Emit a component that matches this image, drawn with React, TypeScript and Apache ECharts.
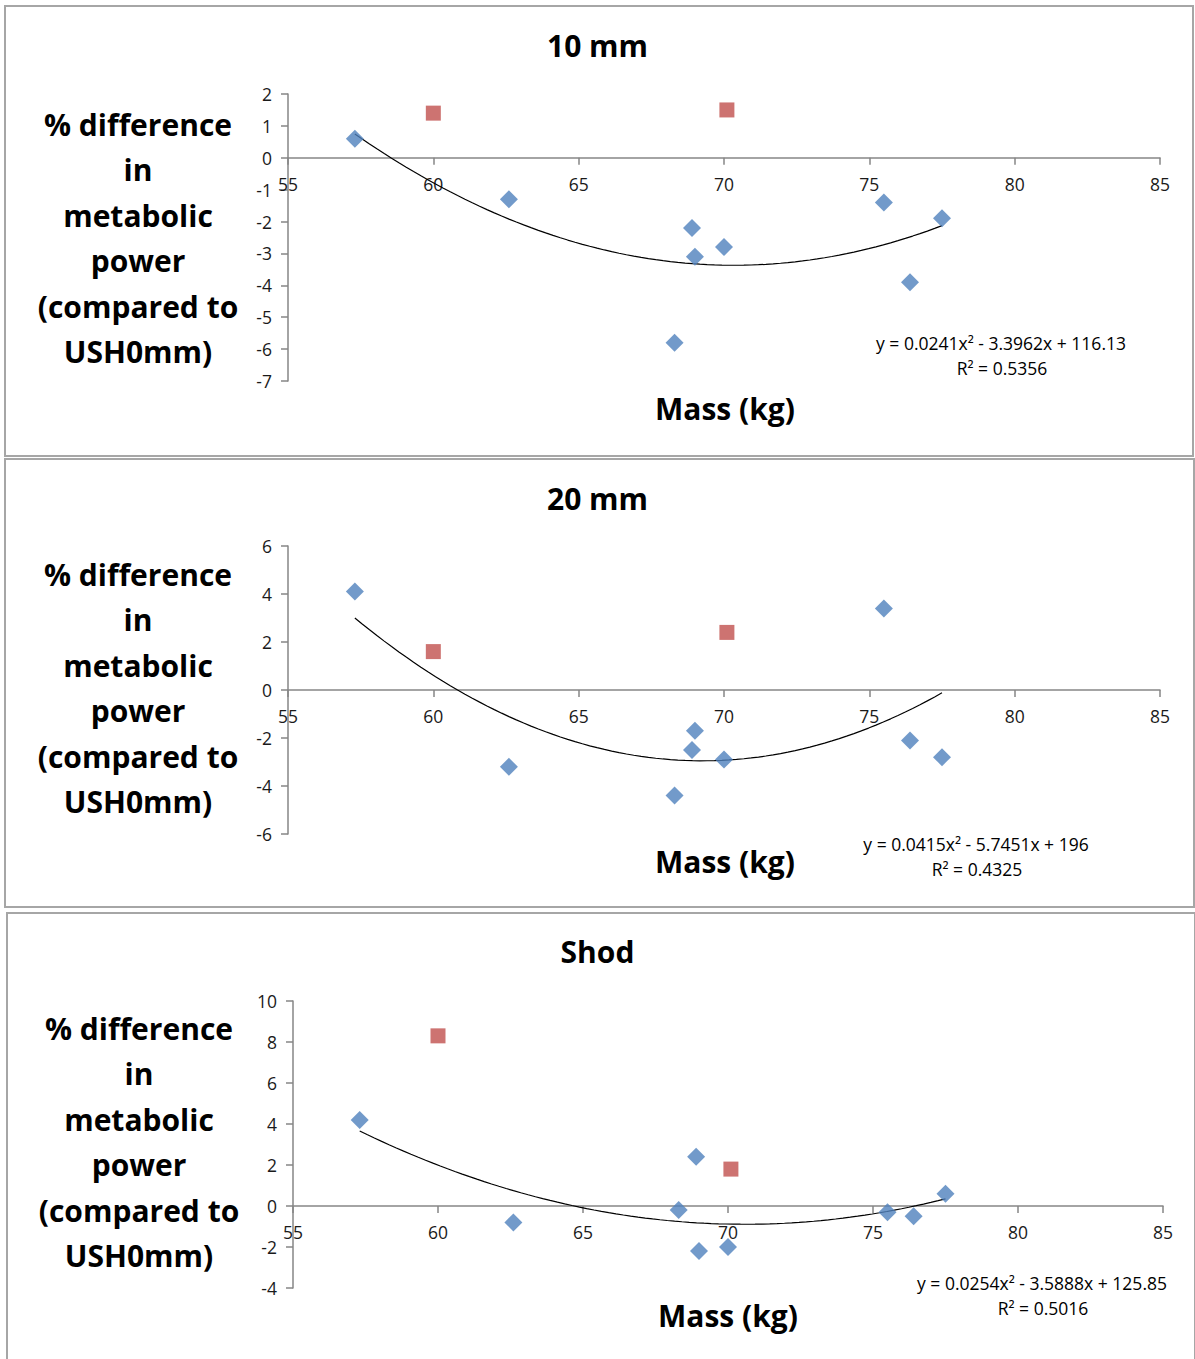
import React, { useEffect, useRef } from "react";
import * as echarts from "echarts";

// ---- data ----
const panelTitles = ["10 mm", "20 mm", "Shod"];
const massBlue = [57.3, 62.6, 68.3, 68.9, 69.0, 70.0, 75.5, 76.4, 77.5];
const diff10 = [0.6, -1.3, -5.8, -2.2, -3.1, -2.8, -1.4, -3.9, -1.9];
const diff20 = [4.1, -3.2, -4.4, -2.5, -1.7, -2.9, 3.4, -2.1, -2.8];
const diffShod = [4.2, -0.8, -0.2, 2.4, -2.2, -2.0, -0.3, -0.5, 0.6];
const massRed = [60.0, 70.1];
const red10 = [1.4, 1.5];
const red20 = [1.6, 2.4];
const redShod = [8.3, 1.8];
// quadratic trendline equations as printed on the chart (a, b, c)
const trend10 = [0.0241, -3.3962, 116.13];
const trend20 = [0.0415, -5.7451, 196];
const trendShod = [0.0254, -3.5888, 125.85];
const r2Values = ["0.5356", "0.4325", "0.5016"];
const xTicks = { min: 55, max: 85, interval: 5 };
const yRanges = [
  { min: -7, max: 2, interval: 1 },
  { min: -6, max: 6, interval: 2 },
  { min: -4, max: 10, interval: 2 },
];
const yAxisTitle = ["% difference", "in", "metabolic", "power", "(compared to", "USH0mm)"];
const xAxisTitle = "Mass (kg)";

const FONT = "'Open Sans', Lato, sans-serif";
const BLUE = "#4F81BD";
const RED = "#C0504D";
const AXIS = "#868686";

// least-squares quadratic fit of the plotted points (Excel polynomial trendline)
function quadFit(xs: number[], ys: number[]) {
  const n = xs.length;
  let s1 = 0, s2 = 0, s3 = 0, s4 = 0, t0 = 0, t1 = 0, t2 = 0;
  for (let i = 0; i < n; i++) {
    const x = xs[i], y = ys[i];
    s1 += x; s2 += x * x; s3 += x * x * x; s4 += x * x * x * x;
    t0 += y; t1 += x * y; t2 += x * x * y;
  }
  const M = [
    [s4, s3, s2, t2],
    [s3, s2, s1, t1],
    [s2, s1, n, t0],
  ];
  for (let c = 0; c < 3; c++) {
    let p = c;
    for (let r = c + 1; r < 3; r++) if (Math.abs(M[r][c]) > Math.abs(M[p][c])) p = r;
    [M[c], M[p]] = [M[p], M[c]];
    for (let r = 0; r < 3; r++) {
      if (r === c) continue;
      const f = M[r][c] / M[c][c];
      for (let k = c; k < 4; k++) M[r][k] -= f * M[c][k];
    }
  }
  return [M[0][3] / M[0][0], M[1][3] / M[1][1], M[2][3] / M[2][2]];
}

function trendPoints(xs: number[], ys: number[]) {
  const coef = quadFit(xs, ys);
  const lo = Math.min(...xs);
  const hi = Math.max(...xs);
  const pts: number[][] = [];
  const n = 80;
  for (let i = 0; i <= n; i++) {
    const x = lo + ((hi - lo) * i) / n;
    pts.push([x, coef[0] * x * x + coef[1] * x + coef[2]]);
  }
  return pts;
}

function eqText(coef: number[]) {
  const sign = (v: number) => (v < 0 ? " - " : " + ");
  return `y = ${coef[0]}x²${sign(coef[1])}${Math.abs(coef[1])}x${sign(coef[2])}${Math.abs(coef[2])}`;
}

export default function App() {
  const ref = useRef<HTMLDivElement>(null);
  useEffect(() => {
    if (!ref.current) return;
    const chart = echarts.init(ref.current, undefined, { renderer: "svg" });

    const grids = [
      { left: 288, top: 94, width: 872, height: 287 },
      { left: 288, top: 546, width: 872, height: 288 },
      { left: 293, top: 1001, width: 870, height: 287 },
    ];
    const blues = [diff10, diff20, diffShod];
    const reds = [red10, red20, redShod];
    const trends = [trend10, trend20, trendShod];
    const panels = [
      { x: 5, y: 6, w: 1188, h: 450 },
      { x: 5, y: 459, w: 1189, h: 448 },
      { x: 7, y: 913, w: 1188, h: 470 },
    ];
    const titleY = [46, 499, 952];
    const yNameCenter = [
      { x: 138, y: 238 },
      { x: 138, y: 688 },
      { x: 139, y: 1142 },
    ];
    const xNameCenter = [
      { x: 725, y: 408 },
      { x: 725, y: 861 },
      { x: 728, y: 1315 },
    ];
    const eqPos = [
      { x: 1001, y: 343 },
      { x: 976, y: 844 },
      { x: 1042, y: 1283 },
    ];

    const series: any[] = [];
    blues.forEach((vals, i) => {
      series.push({
        type: "line",
        xAxisIndex: i,
        yAxisIndex: i,
        showSymbol: false,
        symbol: "none",
        lineStyle: { color: "#000", width: 1.2 },
        data: trendPoints(massBlue, vals),
        z: 2,
      });
      series.push({
        type: "scatter",
        xAxisIndex: i,
        yAxisIndex: i,
        symbol: "diamond",
        symbolSize: 18,
        itemStyle: { color: BLUE },
        data: massBlue.map((m, k) => [m, vals[k]]),
        z: 3,
      });
      series.push({
        type: "scatter",
        xAxisIndex: i,
        yAxisIndex: i,
        symbol: "rect",
        symbolSize: 15,
        itemStyle: { color: RED },
        data: massRed.map((m, k) => [m, reds[i][k]]),
        z: 3,
      });
    });

    const graphic: any[] = [];
    panels.forEach((p) => {
      graphic.push({
        type: "rect",
        shape: { x: p.x, y: p.y, width: p.w, height: p.h },
        style: { fill: "none", stroke: "#a6a6a6", lineWidth: 2 },
        z: -1,
      });
    });
    yNameCenter.forEach((c) => {
      graphic.push({
        type: "text",
        x: c.x,
        y: c.y,
        style: {
          text: yAxisTitle.join("\n"),
          font: `bold 30px ${FONT}`,
          fill: "#000",
          align: "center",
          verticalAlign: "middle",
          lineHeight: 45.5,
        },
      });
    });
    xNameCenter.forEach((c) => {
      graphic.push({
        type: "text",
        x: c.x,
        y: c.y,
        style: {
          text: xAxisTitle,
          font: `bold 30px ${FONT}`,
          fill: "#000",
          align: "center",
          verticalAlign: "middle",
        },
      });
    });
    eqPos.forEach((c, i) => {
      graphic.push({
        type: "text",
        x: c.x,
        y: c.y,
        style: {
          text: eqText(trends[i]),
          font: `17.5px ${FONT}`,
          fill: "#000",
          align: "center",
          verticalAlign: "middle",
        },
      });
      graphic.push({
        type: "text",
        x: c.x + 1,
        y: c.y + 25,
        style: {
          text: `R² = ${r2Values[i]}`,
          font: `17.5px ${FONT}`,
          fill: "#000",
          align: "center",
          verticalAlign: "middle",
        },
      });
    });

    chart.setOption({
      animation: false,
      backgroundColor: "#fff",
      title: panelTitles.map((t, i) => ({
        text: t,
        left: "center",
        top: titleY[i] - 16,
        padding: 0,
        textStyle: { fontFamily: FONT, fontWeight: "bold", fontSize: 30, color: "#000" },
      })),
      grid: grids.map((g) => ({ ...g, containLabel: false })),
      xAxis: grids.map((g, i) => ({
        type: "value",
        gridIndex: i,
        min: xTicks.min,
        max: xTicks.max,
        interval: xTicks.interval,
        position: "bottom",
        // Excel crosses the horizontal axis at y = 0
        offset: -(g.height * (0 - yRanges[i].min)) / (yRanges[i].max - yRanges[i].min),
        axisLine: { show: true, onZero: false, lineStyle: { color: AXIS, width: 1.5 } },
        axisTick: { show: true, length: 7, lineStyle: { color: AXIS, width: 1.5 } },
        axisLabel: { margin: 17, fontFamily: FONT, fontSize: 17.5, color: "#1a1a1a" },
        splitLine: { show: false },
      })),
      yAxis: grids.map((_, i) => ({
        type: "value",
        gridIndex: i,
        min: yRanges[i].min,
        max: yRanges[i].max,
        interval: yRanges[i].interval,
        axisLine: { show: true, onZero: false, lineStyle: { color: AXIS, width: 1.5 } },
        axisTick: { show: true, length: 7, lineStyle: { color: AXIS, width: 1.5 } },
        axisLabel: { margin: 16, fontFamily: FONT, fontSize: 17.5, color: "#1a1a1a" },
        splitLine: { show: false },
      })),
      series,
      graphic,
    });
    return () => chart.dispose();
  }, []);
  return (
    <div
      ref={ref}
      style={{ position: "absolute", left: 0, top: 0, width: 1195, height: 1359 }}
    />
  );
}
